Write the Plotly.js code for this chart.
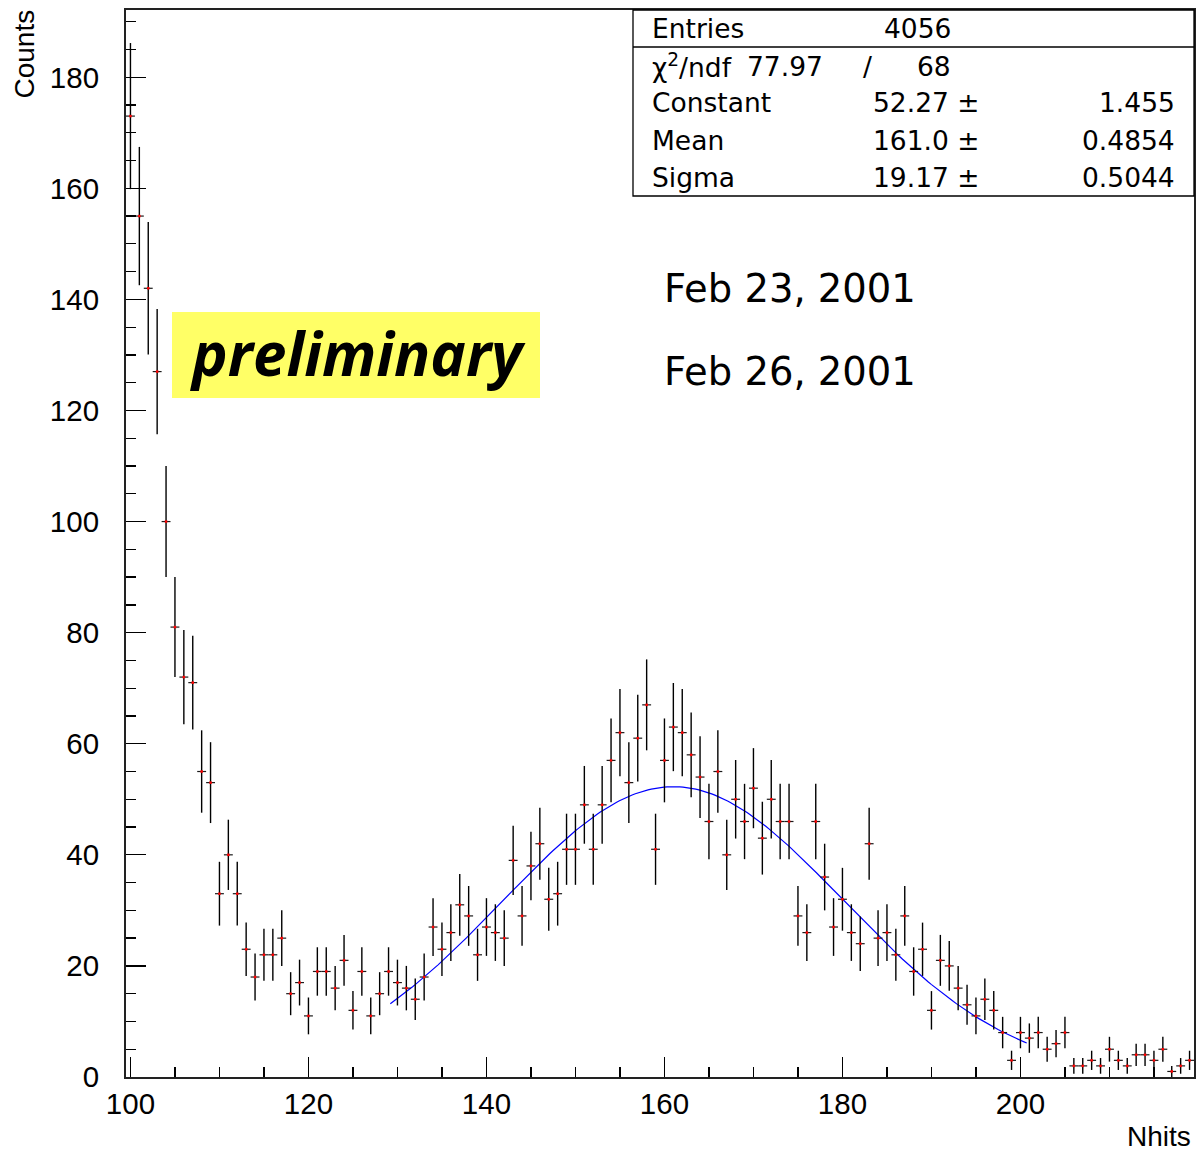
<!DOCTYPE html>
<html>
<head>
<meta charset="utf-8">
<script src="https://cdn.plot.ly/plotly-3.0.1.min.js"></script>
<style>
  html, body { margin: 0; padding: 0; background: #fff; }
  #plot { width: 1197px; height: 1154px; }
</style>
</head>
<body>
<div id="plot"></div>
<script>
// Nhits histogram: one-unit bins centred on integers 100..219
const binCenters = [];
for (let b = 100; b <= 219; b++) binCenters.push(b);

const counts = [
  173, 155, 142, 127, 100, 81, 72, 71, 55, 53,   // 100-109
  33, 40, 33, 23, 18, 22, 22, 25, 15, 17,        // 110-119
  11, 19, 19, 16, 21, 12, 19, 11, 15, 19,        // 120-129
  17, 16, 14, 18, 27, 23, 26, 31, 29, 22,        // 130-139
  27, 26, 25, 39, 29, 38, 42, 32, 33, 41,        // 140-149
  41, 49, 41, 49, 57, 62, 53, 61, 67, 41,        // 150-159
  57, 63, 62, 58, 54, 46, 55, 40, 50, 46,        // 160-169
  52, 43, 50, 46, 46, 29, 26, 46, 36, 27,        // 170-179
  32, 26, 24, 42, 25, 26, 22, 29, 19, 23,        // 180-189
  12, 21, 20, 16, 13, 11, 14, 12, 8, 3,          // 190-199
  8, 7, 8, 5, 6, 8, 2, 2, 3, 2,                  // 200-209
  5, 3, 2, 4, 4, 3, 5, 1, 2, 3                   // 210-219
];

// Gaussian fit result and the range it was drawn over
const fitConstant = [52.27, 1.455];
const fitMean = [161.0, 0.4854];
const fitSigma = [19.17, 0.5044];
const fitRange = [129.2, 200.7];

const entries = 4056;
const chi2 = 77.97;
const ndf = 68;

const xTickVals = [100, 120, 140, 160, 180, 200];
const yTickVals = [0, 20, 40, 60, 80, 100, 120, 140, 160, 180];
const dateLines = ['Feb 23, 2001', 'Feb 26, 2001'];
const stampText = 'preliminary';

// Poisson errors for each bin
const errors = counts.map(c => Math.sqrt(c));

// Fit curve sampled along its range
const fitX = [], fitY = [];
const nFit = 200;
for (let i = 0; i <= nFit; i++) {
  const x = fitRange[0] + (fitRange[1] - fitRange[0]) * i / nFit;
  fitX.push(x);
  fitY.push(fitConstant[0] * Math.exp(-0.5 * Math.pow((x - fitMean[0]) / fitSigma[0], 2)));
}

const histTrace = {
  type: 'scatter', mode: 'markers',
  x: binCenters, y: counts,
  marker: { color: '#ff0000', size: 2.5, symbol: 'square' },
  error_x: { type: 'constant', value: 0.5, width: 0, thickness: 1.2, color: '#1a1a1a' },
  error_y: { type: 'data', array: errors, visible: true, width: 0, thickness: 1.4, color: '#000' },
  hoverinfo: 'x+y', showlegend: false
};

const fitTrace = {
  type: 'scatter', mode: 'lines',
  x: fitX, y: fitY,
  line: { color: '#0000ff', width: 1.2 },
  hoverinfo: 'skip', showlegend: false
};

// Plot-area geometry in pixels
const W = 1197, H = 1154;
const M = { l: 126, r: 3, t: 10, b: 77 };
const pw = W - M.l - M.r, ph = H - M.t - M.b;
const px = p => (p - M.l) / pw;          // page x pixel -> paper x
const py = p => (H - M.b - p) / ph;       // page y pixel -> paper y

const statsFont = { family: 'DejaVu Sans, sans-serif', size: 26.5, color: '#000' };
const statsRows = [
  { y: 29, cells: [['Entries', 650, 'left'], [String(entries), 953, 'right']] },
  { y: 66, cells: [['χ<sup>2</sup>/ndf', 650, 'left'], [chi2.toFixed(2), 825, 'right'], ['/', 867, 'center'], [String(ndf), 953, 'right']] },
  { y: 103, cells: [['Constant', 650, 'left'], [fitConstant[0].toFixed(2) + ' ±', 982, 'right'], [fitConstant[1].toFixed(3), 1177, 'right']] },
  { y: 140, cells: [['Mean', 650, 'left'], [fitMean[0].toFixed(1) + ' ±', 982, 'right'], [fitMean[1].toFixed(4), 1177, 'right']] },
  { y: 178, cells: [['Sigma', 650, 'left'], [fitSigma[0].toFixed(2) + ' ±', 982, 'right'], [fitSigma[1].toFixed(4), 1177, 'right']] }
];

const annotations = [];
statsRows.forEach(r => r.cells.forEach(c => {
  annotations.push({
    xref: 'paper', yref: 'paper', x: px(c[1]), y: py(r.y),
    xanchor: c[2], yanchor: 'middle', text: c[0], showarrow: false,
    font: statsFont
  });
}));

// Run dates
const dateFont = { family: 'DejaVu Sans, sans-serif', size: 38.5, color: '#000' };
annotations.push({ xref: 'paper', yref: 'paper', x: px(662), y: py(288), xanchor: 'left', yanchor: 'middle',
  text: dateLines[0], showarrow: false, font: dateFont });
annotations.push({ xref: 'paper', yref: 'paper', x: px(662), y: py(371), xanchor: 'left', yanchor: 'middle',
  text: dateLines[1], showarrow: false, font: dateFont });

// Preliminary stamp
annotations.push({ xref: 'paper', yref: 'paper', x: px(358), y: py(353), xanchor: 'center', yanchor: 'middle',
  text: '<b><i>' + stampText + '</i></b>', showarrow: false,
  font: { family: 'Open Sans, sans-serif', size: 60, color: '#000' } });

// Axis titles
const titleFont = { family: 'Liberation Sans, Arial, sans-serif', size: 28, color: '#000' };
annotations.push({ xref: 'paper', yref: 'paper', x: px(24), y: py(8), xanchor: 'center', yanchor: 'top',
  text: 'Counts', textangle: -90, showarrow: false, font: titleFont });
annotations.push({ xref: 'paper', yref: 'paper', x: px(1193), y: py(1136), xanchor: 'right', yanchor: 'middle',
  text: 'Nhits', showarrow: false, font: titleFont });

const shapes = [
  // stats box
  { type: 'rect', xref: 'paper', yref: 'paper', x0: px(633), x1: 1, y0: py(196), y1: 1,
    line: { color: '#000', width: 1.3 }, fillcolor: '#fff', layer: 'above' },
  { type: 'line', xref: 'paper', yref: 'paper', x0: px(633), x1: 1, y0: py(47), y1: py(47),
    line: { color: '#000', width: 1.3 }, layer: 'above' },
  // yellow stamp background
  { type: 'rect', xref: 'paper', yref: 'paper', x0: px(172), x1: px(540), y0: py(398), y1: py(312),
    line: { width: 0 }, fillcolor: '#ffff66', layer: 'above' }
];

const axisFont = { family: 'Liberation Sans, Arial, sans-serif', size: 29.5, color: '#000' };

const layout = {
  width: W, height: H,
  margin: M,
  paper_bgcolor: '#fff', plot_bgcolor: '#fff',
  showlegend: false,
  xaxis: {
    range: [99.5, 219.5], tickmode: 'array', tickvals: xTickVals,
    ticks: 'inside', ticklen: 20, tickwidth: 1.3, tickcolor: '#000',
    minor: { dtick: 5, tick0: 100, ticks: 'inside', ticklen: 10, tickwidth: 1.3, tickcolor: '#000', showgrid: false },
    showgrid: false, zeroline: false,
    showline: true, mirror: true, linecolor: '#222', linewidth: 2,
    tickfont: axisFont, ticklabelstandoff: 0
  },
  yaxis: {
    range: [0, 192.1], tickmode: 'array', tickvals: yTickVals,
    ticks: 'inside', ticklen: 20, tickwidth: 1.3, tickcolor: '#000',
    minor: { dtick: 5, tick0: 0, ticks: 'inside', ticklen: 10, tickwidth: 1.3, tickcolor: '#000', showgrid: false },
    showgrid: false, zeroline: false,
    showline: true, mirror: true, linecolor: '#222', linewidth: 2,
    tickfont: axisFont, ticklabelstandoff: 19
  },
  shapes: shapes,
  annotations: annotations
};

Plotly.newPlot('plot', [fitTrace, histTrace], layout, { displayModeBar: false, staticPlot: true });
</script>
</body>
</html>
